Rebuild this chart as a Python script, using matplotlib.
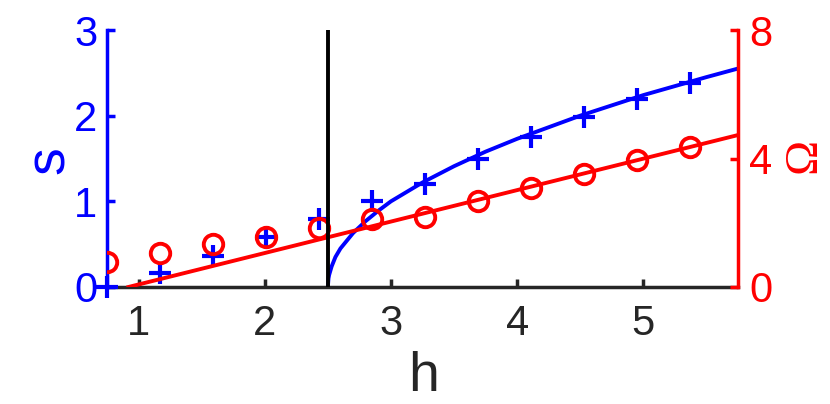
import matplotlib
matplotlib.use("Agg")
import matplotlib.pyplot as plt

# values
h_pts = [0.75, 1.17, 1.59, 2.01, 2.43, 2.85, 3.27, 3.69, 4.11, 4.53, 4.95, 5.37]
s_pts = [0.0, 0.16, 0.36, 0.58, 0.79, 1.00, 1.20, 1.50, 1.75, 1.98, 2.19, 2.38]
om_pts = [0.78, 1.06, 1.33, 1.56, 1.84, 2.12, 2.19, 2.67, 3.08, 3.52, 3.96, 4.36]

# blue theory curve (s vs h), starts at the transition h = 2.5
h_curve = [2.5, 2.505, 2.51, 2.53, 2.56, 2.6, 2.7, 2.8, 2.9, 3.0, 3.25, 3.5,
           3.75, 4.0, 4.5, 5.0, 5.5, 5.75]
s_curve = [0.0, 0.10, 0.14, 0.24, 0.35, 0.45, 0.63, 0.77, 0.89, 1.00, 1.22, 1.41,
           1.58, 1.73, 2.00, 2.24, 2.45, 2.55]

# red theory line (Omega vs h)
h_line = [0.92, 5.75]
om_line = [0.0, 4.73]

h_crit = 2.5

x_ticks = [1, 2, 3, 4, 5]
s_ticks = [0, 1, 2, 3]
om_ticks = [0, 4, 8]

BLUE = (0, 0, 1)
RED = (1, 0, 0)
GRAY = (0.15, 0.15, 0.15)
SANS = "Liberation Sans"

fig = plt.figure(figsize=(8.3, 4.04), dpi=100)
ax = fig.add_axes([107 / 830, 1 - 287 / 404, 631 / 830, 257 / 404])
ax2 = ax.twinx()

ax.set_xlim(0.75, 5.75)
ax.set_ylim(0, 3)
ax2.set_ylim(0, 8)

LW = 2.8

# left axis: s
ax.plot(h_curve, s_curve, color=BLUE, lw=LW, zorder=2)
ax.plot(h_pts, s_pts, ls="none", marker="+", ms=16, mew=3, color=BLUE,
        clip_on=False, zorder=3)

# right axis: Omega
ax2.plot(h_line, om_line, color=RED, lw=LW, zorder=2)
ax2.plot(h_pts, om_pts, ls="none", marker="o", ms=14, mew=2.8, mfc="none",
         color=RED, zorder=3)
ax2.axvline(h_crit, color="k", lw=LW, zorder=4)

# spines
for a in (ax, ax2):
    a.spines["top"].set_visible(False)
ax.spines["right"].set_visible(False)
ax2.spines["left"].set_visible(False)
ax2.spines["bottom"].set_visible(False)
ax.spines["left"].set_color(BLUE)
ax.spines["left"].set_linewidth(2.5)
ax.spines["bottom"].set_color(GRAY)
ax.spines["bottom"].set_linewidth(2.5)
ax2.spines["right"].set_color(RED)
ax2.spines["right"].set_linewidth(2.5)

ax.set_xticks(x_ticks)
ax.set_yticks(s_ticks)
ax2.set_yticks(om_ticks)
ax.tick_params(axis="x", direction="in", length=6, width=2.5, colors=GRAY,
               labelsize=30, pad=12)
ax.tick_params(axis="y", direction="in", length=6, width=2.5, colors=BLUE,
               labelsize=30, pad=7)
ax2.tick_params(axis="y", direction="in", length=6, width=2.5, colors=RED,
                labelsize=30, pad=8)
for lab in ax.get_xticklabels() + ax.get_yticklabels() + ax2.get_yticklabels():
    lab.set_family(SANS)

ax.set_xlabel("h", fontsize=40, family=SANS, color=GRAY, va="center")
ax.xaxis.set_label_coords(0.501, -0.35)
ax.set_ylabel("s", fontsize=40, family=SANS, color=BLUE, va="center")
ax.yaxis.set_label_coords(-0.09, 0.494)
ax2.set_ylabel("Ω", fontsize=34, family="Liberation Serif", color=RED,
               va="center", rotation=90)
ax2.yaxis.set_label_coords(1.105, 0.514)

fig.savefig("out.png", dpi=100)
